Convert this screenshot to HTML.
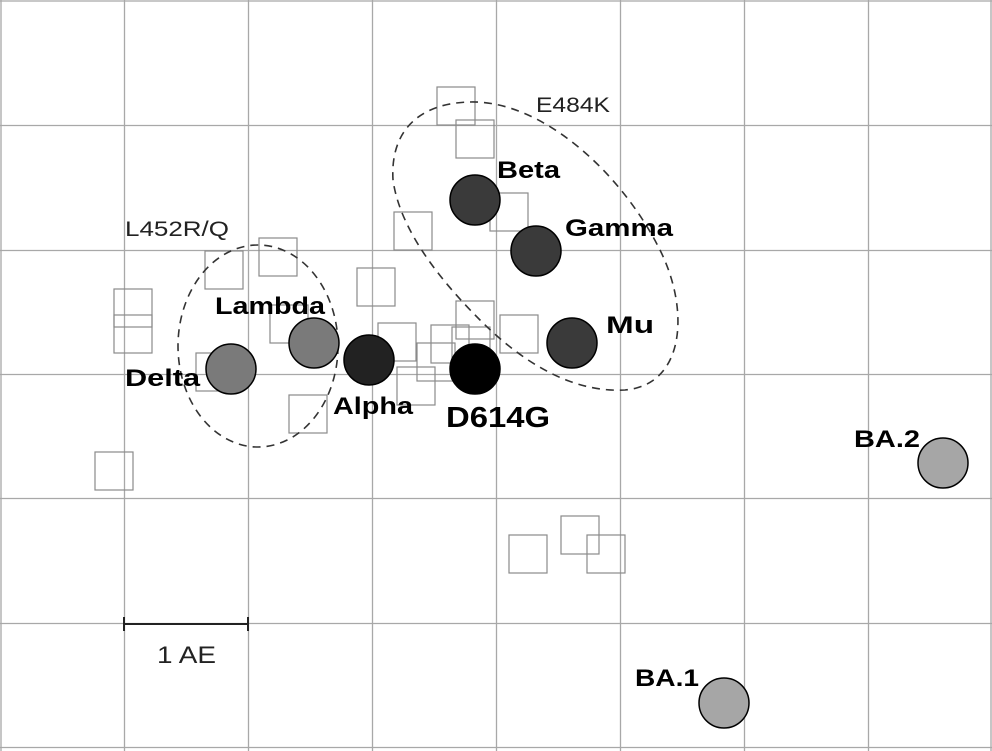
<!DOCTYPE html>
<html><head><meta charset="utf-8"><style>html,body{margin:0;padding:0;background:#fff}svg{display:block}</style></head><body>
<svg width="992" height="751" viewBox="0 0 992 751" xmlns="http://www.w3.org/2000/svg" font-family="Liberation Sans, sans-serif">
<rect width="992" height="751" fill="#fff"/>
<g stroke="#a8a8a8" stroke-width="1.3">
<line x1="1" y1="0" x2="1" y2="751"/><line x1="124.5" y1="0" x2="124.5" y2="751"/><line x1="248.5" y1="0" x2="248.5" y2="751"/><line x1="372.5" y1="0" x2="372.5" y2="751"/><line x1="496.5" y1="0" x2="496.5" y2="751"/><line x1="620.5" y1="0" x2="620.5" y2="751"/><line x1="744.5" y1="0" x2="744.5" y2="751"/><line x1="868.5" y1="0" x2="868.5" y2="751"/><line x1="991" y1="0" x2="991" y2="751"/>
<line x1="0" y1="1" x2="992" y2="1"/><line x1="0" y1="125.5" x2="992" y2="125.5"/><line x1="0" y1="250.5" x2="992" y2="250.5"/><line x1="0" y1="374.5" x2="992" y2="374.5"/><line x1="0" y1="498.5" x2="992" y2="498.5"/><line x1="0" y1="623.5" x2="992" y2="623.5"/><line x1="0" y1="747.5" x2="992" y2="747.5"/>
</g>
<g fill="none" stroke="#8a8a8a" stroke-width="1.2">
<rect x="437" y="87" width="38" height="38"/><rect x="456" y="120" width="38" height="38"/><rect x="394" y="212" width="38" height="38"/><rect x="490" y="193" width="38" height="38"/>
<rect x="205" y="251" width="38" height="38"/><rect x="259" y="238" width="38" height="38"/><rect x="357" y="268" width="38" height="38"/>
<rect x="114" y="289" width="38" height="38"/><rect x="114" y="315" width="38" height="38"/><rect x="270" y="305" width="38" height="38"/>
<rect x="196" y="353" width="38" height="38"/><rect x="289" y="395" width="38" height="38"/><rect x="378" y="323" width="38" height="38"/>
<rect x="417" y="343" width="38" height="38"/><rect x="397" y="367" width="38" height="38"/><rect x="431" y="325" width="38" height="38"/>
<rect x="452" y="327" width="38" height="38"/><rect x="456" y="301" width="38" height="38"/><rect x="500" y="315" width="38" height="38"/>
<rect x="95" y="452" width="38" height="38"/><rect x="509" y="535" width="38" height="38"/><rect x="561" y="516" width="38" height="38"/><rect x="587" y="535" width="38" height="38"/>
</g>
<g fill="none" stroke="#333" stroke-width="1.6" stroke-dasharray="8,6">
<ellipse cx="258" cy="346" rx="80" ry="101"/>
<path d="M470,102 C540,100 620,170 660,250 C690,310 685,385 625,390 C570,393 520,360 480,320 C440,280 400,230 393,180 C390,130 420,103 470,102 Z"/>
</g>
<g stroke="#000" stroke-width="1.5">
<circle cx="475" cy="200" r="25" fill="#3a3a3a"/>
<circle cx="536" cy="251" r="25" fill="#3a3a3a"/>
<circle cx="572" cy="343" r="25" fill="#3a3a3a"/>
<circle cx="314" cy="343" r="25" fill="#7a7a7a"/>
<circle cx="231" cy="369" r="25" fill="#7a7a7a"/>
<circle cx="369" cy="360" r="25" fill="#222"/>
<circle cx="475" cy="369" r="25" fill="#000"/>
<circle cx="943" cy="463" r="25" fill="#a6a6a6"/>
<circle cx="724" cy="703" r="25" fill="#a6a6a6"/>
</g>
<g font-weight="bold" font-size="24" fill="#000" lengthAdjust="spacingAndGlyphs">
<text x="497" y="178" textLength="63" lengthAdjust="spacingAndGlyphs">Beta</text>
<text x="565" y="236" textLength="108" lengthAdjust="spacingAndGlyphs">Gamma</text>
<text x="606" y="333" textLength="48" lengthAdjust="spacingAndGlyphs">Mu</text>
<text x="215" y="314" textLength="110" lengthAdjust="spacingAndGlyphs">Lambda</text>
<text x="125" y="386" textLength="75" lengthAdjust="spacingAndGlyphs">Delta</text>
<text x="333" y="414" textLength="80" lengthAdjust="spacingAndGlyphs">Alpha</text>
<text x="446" y="427" font-size="29" textLength="104" lengthAdjust="spacingAndGlyphs">D614G</text>
<text x="854" y="447" textLength="66" lengthAdjust="spacingAndGlyphs">BA.2</text>
<text x="635" y="686" textLength="64" lengthAdjust="spacingAndGlyphs">BA.1</text>
</g>
<g font-size="21" fill="#222">
<text x="125" y="236" textLength="104" lengthAdjust="spacingAndGlyphs">L452R/Q</text>
<text x="536" y="112" textLength="74" lengthAdjust="spacingAndGlyphs">E484K</text>
<text x="157" y="663" font-size="24" textLength="59" lengthAdjust="spacingAndGlyphs">1 AE</text>
</g>
<g stroke="#222" stroke-width="2">
<line x1="124" y1="624" x2="248" y2="624"/><line x1="124" y1="617" x2="124" y2="631"/><line x1="248" y1="617" x2="248" y2="631"/>
</g>
</svg>
</body></html>
